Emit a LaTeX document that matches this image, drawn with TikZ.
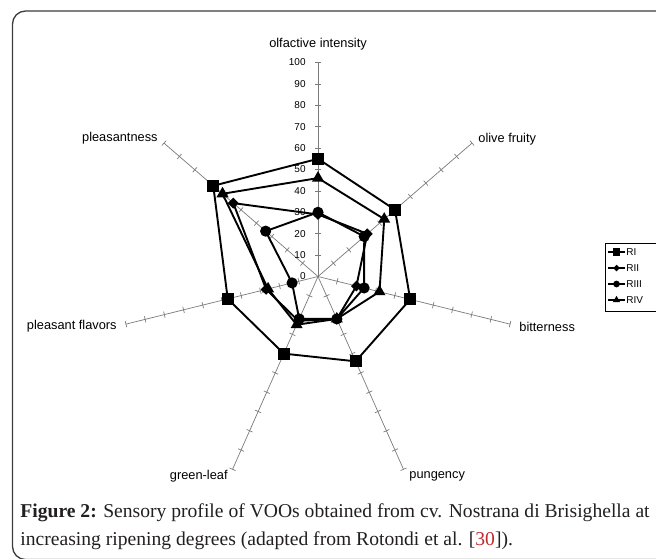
\documentclass[tikz,border=0pt]{standalone}
\usepackage{fontspec}
\setmainfont{Liberation Serif}
\newfontfamily\chartfont{Liberation Sans}
\usetikzlibrary{shapes.geometric,calc}
\definecolor{axisgray}{HTML}{7A7A7A}
\definecolor{framegray}{HTML}{3C3C3C}
\definecolor{refred}{HTML}{C0272D}
\definecolor{captext}{HTML}{231F20}
\begin{document}
\begin{tikzpicture}[x=0.5pt,y=-0.5pt,
  axisline/.style={axisgray, line width=0.35pt},
  tickmark/.style={axisgray, line width=0.35pt},
  series/.style={black, line width=0.95pt, line join=round},
  sqmark/.style={rectangle, fill=black, draw=none, minimum size=6pt, inner sep=0pt},
  dmmark/.style={diamond, fill=black, draw=none, minimum width=5.6pt, minimum height=5.6pt, inner sep=0pt},
  ccmark/.style={circle, fill=black, draw=none, minimum size=5.6pt, inner sep=0pt},
  trmark/.style={regular polygon, regular polygon sides=3, fill=black, draw=none, minimum size=7pt, inner sep=0pt},
  axlabel/.style={font=\chartfont\fontsize{6.4}{7}\selectfont, inner sep=0pt},
  ticklabel/.style={font=\chartfont\fontsize{5}{6}\selectfont, inner sep=0pt, anchor=east},
  legtext/.style={font=\chartfont\fontsize{5}{6}\selectfont, inner sep=0pt, anchor=west},
  capline/.style={font=\fontsize{9.8}{12}\selectfont, text=captext, inner sep=0pt, anchor=base west}
]
\useasboundingbox (0,0) rectangle (656,558);
\clip (0,0) rectangle (656,558);

% frame
\draw[framegray, line width=0.65pt, rounded corners=6.5pt] (12.5,11) rectangle (720,559.5);

% axes
\coordinate (O) at (318,276.5);
\foreach \k/\nm in {0/oi,1/of,2/bi,3/pu,4/gl,5/pf,6/pl} {
  \pgfmathsetmacro\ang{90-\k*360/7}
  \coordinate (\nm) at ({318+197*cos(\ang)},{276.5-214*sin(\ang)});
  \draw[axisline] (O) -- (\nm);
  \foreach \v in {10,20,...,100} {
    \coordinate (tk) at ({318+1.97*\v*cos(\ang)},{276.5-2.14*\v*sin(\ang)});
    \draw[tickmark] ($(tk)!1.6pt!90:(O)$) -- ($(tk)!1.6pt!-90:(O)$);
  }
}

% tick labels on the first axis
\foreach \v in {0,10,...,100}
  \node[ticklabel] (tl\v) at (306,{276.5-2.14*\v}) {\v};

% axis labels
\node[axlabel] (Loi) at (318,44) {olfactive intensity};
\node[axlabel, anchor=west] (Lof) at (478,139) {olive fruity};
\node[axlabel, anchor=west] (Lbi) at (519,327) {bitterness};
\node[axlabel, anchor=west] (Lpu) at (409,476) {pungency};
\node[axlabel, anchor=east] (Lgl) at (228,476) {green-leaf};
\node[axlabel, anchor=east] (Lpf) at (117,326) {pleasant flavors};
\node[axlabel, anchor=east] (Lpl) at (158,138) {pleasantness};

% data points
\foreach \k/\v in {0/55,1/50,2/48,3/44,4/40,5/47,6/68}
  \coordinate (RI\k) at ({318+1.97*\v*cos(90-\k*360/7)},{276.5-2.14*\v*sin(90-\k*360/7)});
\foreach \k/\v in {0/29,1/32,2/20,3/22,4/23,5/27,6/55}
  \coordinate (RII\k) at ({318+1.97*\v*cos(90-\k*360/7)},{276.5-2.14*\v*sin(90-\k*360/7)});
\foreach \k/\v in {0/30,1/30,2/24,3/22,4/22,5/13.5,6/34}
  \coordinate (RIII\k) at ({318+1.97*\v*cos(90-\k*360/7)},{276.5-2.14*\v*sin(90-\k*360/7)});
\foreach \k/\v in {0/46,1/43,2/32,3/22,4/25,5/26,6/62}
  \coordinate (RIV\k) at ({318+1.97*\v*cos(90-\k*360/7)},{276.5-2.14*\v*sin(90-\k*360/7)});

% series polygons
\draw[series] (RI0) -- (RI1) -- (RI2) -- (RI3) -- (RI4) -- (RI5) -- (RI6) -- cycle;
\draw[series] (RII0) -- (RII1) -- (RII2) -- (RII3) -- (RII4) -- (RII5) -- (RII6) -- cycle;
\draw[series] (RIII0) -- (RIII1) -- (RIII2) -- (RIII3) -- (RIII4) -- (RIII5) -- (RIII6) -- cycle;
\draw[series] (RIV0) -- (RIV1) -- (RIV2) -- (RIV3) -- (RIV4) -- (RIV5) -- (RIV6) -- cycle;

% markers
\foreach \k in {0,...,6} {
  \node[sqmark] (mRI\k) at (RI\k) {};
  \node[dmmark] (mRII\k) at (RII\k) {};
  \node[ccmark] (mRIII\k) at (RIII\k) {};
  \node[trmark] (mRIV\k) at (RIV\k) {};
}

% legend
\draw[black, line width=0.35pt] (605.5,243.5) rectangle (700,311);
\foreach \y/\lab/\st in {252/RI/sqmark,268/RII/dmmark,284/RIII/ccmark,300/RIV/trmark} {
  \coordinate (la\lab) at (608,\y);
  \coordinate (lb\lab) at (625,\y);
  \draw[black, line width=0.7pt] (la\lab) -- (lb\lab);
  \node[\st, scale=0.6] (lm\lab) at (616.5,\y) {};
  \node[legtext] (lt\lab) at (626,\y) {\lab};
}

% caption
\node[capline] (cap1) at (20,517) {\textbf{Figure 2:} Sensory profile of VOOs obtained from cv. Nostrana di Brisighella at};
\node[capline] (cap2) at (20,545) {increasing ripening degrees (adapted from Rotondi et al. [\textcolor{refred}{30}]).};
\end{tikzpicture}
\end{document}
